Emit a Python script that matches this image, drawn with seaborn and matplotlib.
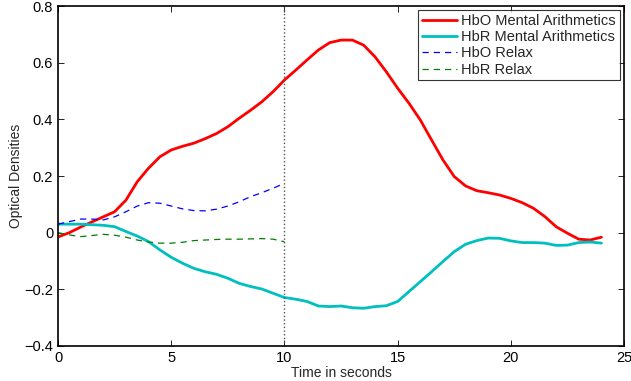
import numpy as np
import pandas as pd
import matplotlib
matplotlib.use('Agg')
import matplotlib.pyplot as plt
import seaborn as sns

# time axis (seconds)
t_task = [0, 0.5, 1, 1.5, 2, 2.5, 3, 3.5, 4, 4.5, 5, 5.5, 6, 6.5, 7, 7.5, 8, 8.5, 9, 9.5,
          10, 10.5, 11, 11.5, 12, 12.5, 13, 13.5, 14, 14.5, 15, 15.5, 16, 16.5, 17, 17.5,
          18, 18.5, 19, 19.5, 20, 20.5, 21, 21.5, 22, 22.5, 23, 23.5, 24]
hbo_task = [-0.015, 0.0, 0.02, 0.038, 0.056, 0.074, 0.115, 0.18, 0.228, 0.268, 0.292, 0.305,
            0.316, 0.332, 0.35, 0.374, 0.404, 0.432, 0.462, 0.498, 0.539, 0.574, 0.61, 0.645,
            0.671, 0.68, 0.68, 0.662, 0.621, 0.568, 0.51, 0.457, 0.398, 0.327, 0.257, 0.198,
            0.165, 0.148, 0.141, 0.133, 0.121, 0.106, 0.086, 0.057, 0.021, -0.002, -0.023,
            -0.026, -0.016]
hbr_task = [0.03, 0.03, 0.03, 0.028, 0.026, 0.021, 0.004, -0.012, -0.032, -0.061, -0.087,
            -0.108, -0.126, -0.138, -0.147, -0.161, -0.179, -0.19, -0.199, -0.214, -0.229,
            -0.235, -0.243, -0.259, -0.261, -0.259, -0.265, -0.267, -0.261, -0.258, -0.243,
            -0.208, -0.173, -0.138, -0.102, -0.067, -0.041, -0.028, -0.019, -0.02, -0.029,
            -0.035, -0.035, -0.037, -0.045, -0.044, -0.035, -0.033, -0.037]

t_rest = [0, 0.5, 1, 1.5, 2, 2.5, 3, 3.5, 4, 4.5, 5, 5.5, 6, 6.5, 7, 7.5, 8, 8.5, 9, 9.5, 10]
hbo_rest = [0.03, 0.039, 0.048, 0.048, 0.045, 0.056, 0.074, 0.094, 0.106, 0.104, 0.094,
            0.084, 0.078, 0.077, 0.083, 0.094, 0.109, 0.127, 0.141, 0.157, 0.174]
hbr_rest = [0.0, -0.008, -0.014, -0.01, -0.006, -0.009, -0.016, -0.026, -0.033, -0.037,
            -0.037, -0.034, -0.028, -0.026, -0.024, -0.023, -0.023, -0.022, -0.021, -0.023,
            -0.032]

sns.set_style('ticks')
plt.rcParams['font.family'] = ['Liberation Sans', 'DejaVu Sans']

fig = plt.figure(figsize=(6.31, 3.81), dpi=100)
ax = fig.add_axes([0.092, 0.092, 0.897, 0.892])

sns.lineplot(x=t_task, y=hbo_task, ax=ax, color='#ff0000', linewidth=2, label='HbO Mental Arithmetics')
sns.lineplot(x=t_task, y=hbr_task, ax=ax, color='#00bfbf', linewidth=2, label='HbR Mental Arithmetics')
sns.lineplot(x=t_rest, y=hbo_rest, ax=ax, color='#0000ff', linewidth=0.9, linestyle=(0, (5, 4)), label='HbO Relax')
sns.lineplot(x=t_rest, y=hbr_rest, ax=ax, color='#007f00', linewidth=0.9, linestyle=(0, (5, 4)), label='HbR Relax')
ax.axvline(10, color='#555555', linestyle=':', linewidth=1)

ax.set(xlim=(0, 25), ylim=(-0.4, 0.8))
ax.set_xticks([0, 5, 10, 15, 20, 25])
ax.set_yticks([-0.4, -0.2, 0, 0.2, 0.4, 0.6, 0.8])
ax.set_yticklabels(['\u22120.4', '\u22120.2', '0', '0.2', '0.4', '0.6', '0.8'])
ax.tick_params(direction='in', top=True, right=True, length=4, width=0.6, labelsize=10.5, colors='black')
for s in ax.spines.values():
    s.set_linewidth(1.2)
    s.set_color('black')
ax.set_xlabel('Time in seconds', fontsize=10, labelpad=1)
ax.set_ylabel('Optical Densities', fontsize=10, labelpad=1)

leg = ax.legend(loc='upper right', fontsize=10.5, frameon=True, fancybox=False,
                borderaxespad=0.3, handlelength=2.4, labelspacing=0.15,
                borderpad=0.25, handletextpad=0.3)
leg.get_frame().set_edgecolor('black')
leg.get_frame().set_linewidth(0.8)

fig.savefig('out.png', dpi=100)
